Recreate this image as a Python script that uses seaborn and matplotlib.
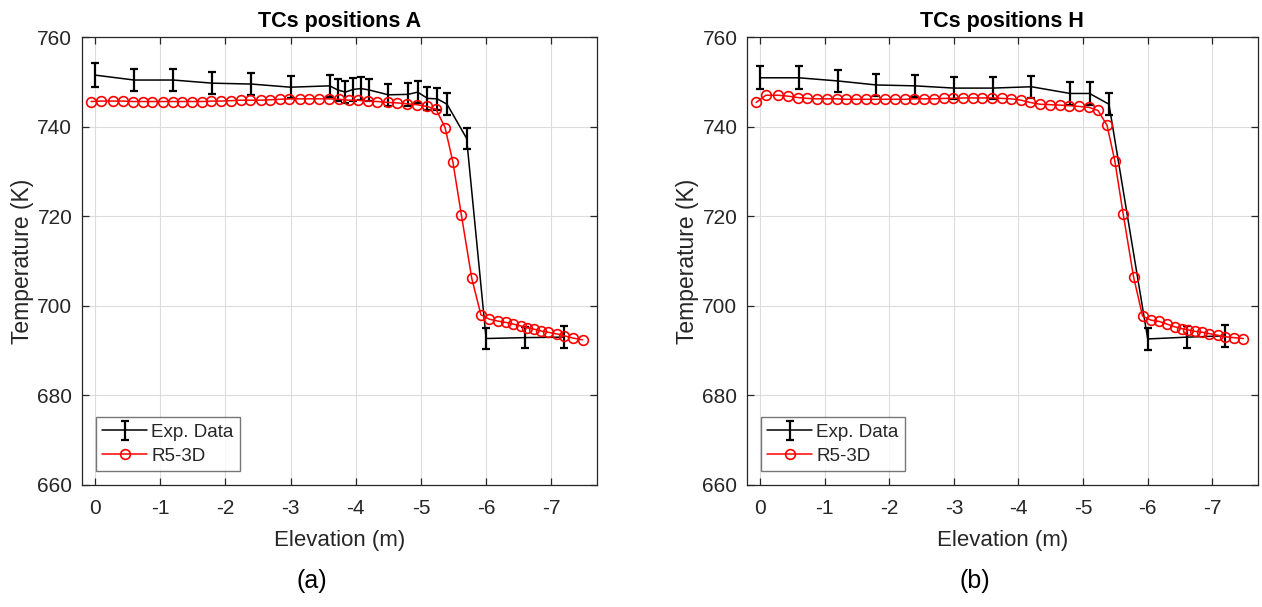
import numpy as np
import pandas as pd
import seaborn as sns
import matplotlib
matplotlib.use("Agg")
import matplotlib.pyplot as plt

# ---------------- data ----------------
# Experimental data, position A
exp_a_elev = [0, -0.6, -1.2, -1.8, -2.4, -3.0, -3.6, -3.72, -3.84, -3.96, -4.08, -4.2,
              -4.5, -4.8, -4.95, -5.1, -5.25, -5.4, -5.7, -6.0, -6.6, -7.2]
exp_a_temp = [751.5, 750.4, 750.4, 749.7, 749.5, 748.8, 749.1, 748.2, 747.7, 748.3, 748.5, 748.2,
              747.1, 747.2, 747.7, 746.3, 746.2, 745.0, 737.4, 692.7, 692.9, 693.0]
exp_a_err = [2.6, 2.5, 2.5, 2.5, 2.5, 2.5, 2.5, 2.5, 2.5, 2.5, 2.5, 2.5,
             2.5, 2.5, 2.5, 2.5, 2.5, 2.5, 2.4, 2.4, 2.4, 2.4]

# Experimental data, position H
exp_h_elev = [0, -0.6, -1.2, -1.8, -2.4, -3.0, -3.6, -4.2, -4.8, -5.1, -5.4, -6.0, -6.6, -7.2]
exp_h_temp = [750.9, 750.9, 750.2, 749.3, 749.1, 748.6, 748.6, 748.9, 747.4, 747.4, 745.0,
              692.6, 693.0, 693.3]
exp_h_err = [2.6, 2.6, 2.5, 2.5, 2.5, 2.5, 2.5, 2.5, 2.5, 2.5, 2.5, 2.5, 2.5, 2.5]

# R5-3D model elevations (common to both positions)
model_elev = [0.06, -0.09, -0.28, -0.43, -0.58, -0.73, -0.88, -1.04, -1.19, -1.33, -1.49,
              -1.64, -1.78, -1.93, -2.09, -2.24, -2.38, -2.54, -2.69, -2.84, -2.98, -3.14,
              -3.29, -3.44, -3.59, -3.74, -3.89, -4.04, -4.18, -4.33, -4.49, -4.64, -4.78,
              -4.94, -5.09, -5.23, -5.37, -5.49, -5.62, -5.78, -5.92, -6.05, -6.18, -6.30,
              -6.42, -6.53, -6.63, -6.73, -6.84, -6.95, -7.09, -7.20, -7.33, -7.48]

model_a_temp = [745.6, 745.7, 745.7, 745.7, 745.6, 745.6, 745.6, 745.6, 745.6, 745.6, 745.6,
                745.6, 745.7, 745.7, 745.8, 745.9, 745.9, 745.9, 746.0, 746.1, 746.2, 746.2,
                746.2, 746.2, 746.2, 746.1, 745.9, 745.9, 745.7, 745.6, 745.4, 745.3, 745.1,
                744.9, 744.5, 743.9, 739.8, 732.1, 720.3, 706.1, 698.0, 697.0, 696.6, 696.3,
                695.9, 695.5, 695.1, 694.8, 694.4, 694.1, 693.7, 693.3, 692.8, 692.4]

model_h_temp = [745.4, 747.0, 747.0, 746.8, 746.5, 746.3, 746.2, 746.2, 746.2, 746.1, 746.1,
                746.1, 746.1, 746.1, 746.1, 746.1, 746.2, 746.2, 746.2, 746.3, 746.3, 746.4,
                746.4, 746.4, 746.4, 746.3, 746.2, 745.9, 745.4, 745.0, 744.9, 744.8, 744.7,
                744.5, 744.3, 743.6, 740.3, 732.4, 720.5, 706.5, 697.7, 696.8, 696.5, 695.9,
                695.3, 694.9, 694.6, 694.3, 694.1, 693.8, 693.4, 693.1, 692.9, 692.7]

titles = ["TCs positions A", "TCs positions H"]
panel_labels = ["(a)", "(b)"]
x_ticks = [0, -1, -2, -3, -4, -5, -6, -7]
y_ticks = [660, 680, 700, 720, 740, 760]

# ---------------- style ----------------
sns.set_theme(style="white")
plt.rcParams["font.family"] = ["Liberation Sans", "DejaVu Sans"]

TXT = "#262626"
fig = plt.figure(figsize=(12.62, 6.07), dpi=100)
ax_a = fig.add_axes([0.065, 0.201, 0.408, 0.738])
ax_h = fig.add_axes([0.592, 0.201, 0.4045, 0.738])

panels = [
    (ax_a, exp_a_elev, exp_a_temp, exp_a_err, model_a_temp),
    (ax_h, exp_h_elev, exp_h_temp, exp_h_err, model_h_temp),
]

for i, (ax, ee, et, er, mt) in enumerate(panels):
    ax.errorbar(ee, et, yerr=er, color="black", lw=1.1, elinewidth=1.6,
                capsize=3, capthick=1.6, label="Exp. Data", zorder=3)
    df = pd.DataFrame({"Elevation": model_elev, "Temperature": mt})
    sns.lineplot(data=df, x="Elevation", y="Temperature", ax=ax, color="red",
                 lw=1.1, marker="o", markersize=7, markerfacecolor="none",
                 markeredgecolor="red", markeredgewidth=1.2, label="R5-3D",
                 sort=False, zorder=4)
    ax.set_xlim(0.2, -7.7)
    ax.set_ylim(660, 760)
    ax.set_xticks(x_ticks)
    ax.set_xticklabels([str(t) for t in x_ticks])
    ax.set_yticks(y_ticks)
    ax.grid(True, color="#dcdcdc", lw=0.8)
    ax.set_axisbelow(True)
    for s in ax.spines.values():
        s.set_visible(True)
        s.set_color(TXT)
        s.set_linewidth(0.9)
    ax.tick_params(direction="in", length=5, width=0.9, color=TXT,
                   top=True, right=True, bottom=True, left=True,
                   labelsize=15, labelcolor=TXT)
    ax.tick_params(axis="x", pad=10)
    ax.tick_params(axis="y", pad=7)
    ax.set_xlabel("Elevation (m)", fontsize=16, color=TXT, labelpad=9)
    ax.set_ylabel("Temperature (K)", fontsize=16.5, color=TXT, labelpad=2)
    ax.set_title(titles[i], fontsize=15.5, fontweight="bold", color="black", pad=7)
    handles, labels = ax.get_legend_handles_labels()
    order = [labels.index("Exp. Data"), labels.index("R5-3D")]
    leg = ax.legend([handles[j] for j in order], [labels[j] for j in order],
                    loc="lower left", bbox_to_anchor=(0.027, 0.031), borderaxespad=0,
                    fontsize=13.5, frameon=True, fancybox=False, handlelength=2.4,
                    handletextpad=0.2, borderpad=0.35, labelspacing=0.35)
    leg.get_frame().set_edgecolor("#555555")
    leg.get_frame().set_linewidth(1.0)
    for t in leg.get_texts():
        t.set_color(TXT)
    pos = ax.get_position()
    fig.text(pos.x0 + pos.width / 2 - 0.022, 0.043, panel_labels[i], ha="center",
             va="center", fontsize=18, color="black")

fig.savefig("out.png", dpi=100, facecolor="white")
